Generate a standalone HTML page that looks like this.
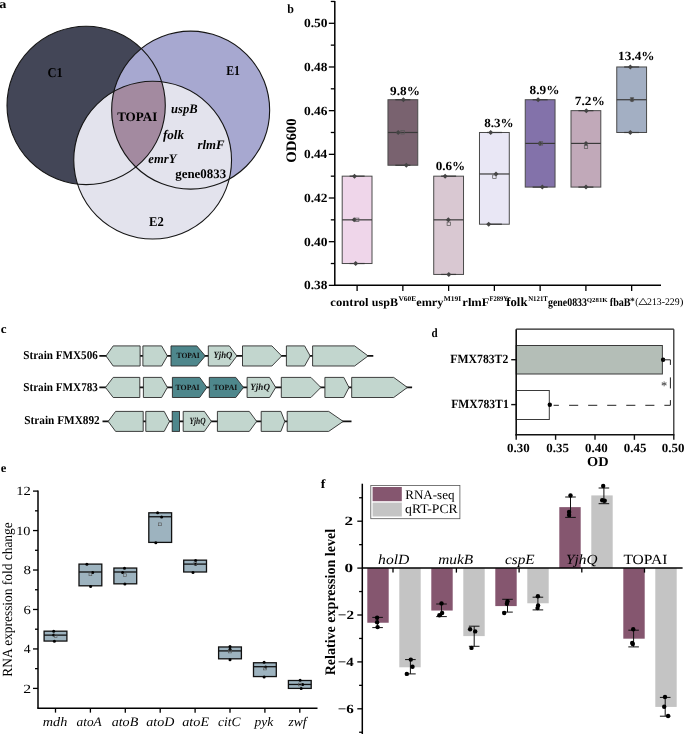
<!DOCTYPE html>
<html><head><meta charset="utf-8"><title>Figure</title>
<style>
html,body{margin:0;padding:0;background:#fff;}
body{width:685px;height:734px;overflow:hidden;}
svg{display:block;font-family:"Liberation Serif", serif;}
text{text-rendering:geometricPrecision;}
svg{will-change:transform;}
</style></head>
<body>
<svg width="685" height="734" viewBox="0 0 685 734">
<rect x="0" y="0" width="685" height="734" fill="#fff"/>
<defs>
<clipPath id="cE1"><circle cx="190.65" cy="110.15" r="79.0"/></clipPath>
<clipPath id="cE2"><circle cx="152.65" cy="160.1" r="78.9"/></clipPath>
</defs>
<circle cx="86.15" cy="105.45" r="79.15" fill="#434657" stroke="none" stroke-width="1" />
<circle cx="190.65" cy="110.15" r="79.00" fill="#a7a8d0" stroke="none" stroke-width="1" />
<circle cx="152.65" cy="160.10" r="78.90" fill="#e3e3ed" stroke="none" stroke-width="1" />
<g clip-path="url(#cE1)">
<circle cx="86.15" cy="105.45" r="79.15" fill="#a38aa0" stroke="none" stroke-width="1" clip-path="url(#cE2)"/>
</g>
<circle cx="86.15" cy="105.45" r="79.15" fill="none" stroke="#151515" stroke-width="1.1" />
<circle cx="190.65" cy="110.15" r="79.00" fill="none" stroke="#151515" stroke-width="1.1" />
<circle cx="152.65" cy="160.10" r="78.90" fill="none" stroke="#151515" stroke-width="1.1" />
<line x1="334.80" y1="0.96" x2="334.80" y2="285.36" stroke="#000" stroke-width="1.5" />
<line x1="334.05" y1="285.36" x2="661.00" y2="285.36" stroke="#000" stroke-width="1.5" />
<line x1="328.80" y1="285.36" x2="334.80" y2="285.36" stroke="#000" stroke-width="1.3" />
<line x1="328.80" y1="241.68" x2="334.80" y2="241.68" stroke="#000" stroke-width="1.3" />
<line x1="328.80" y1="198.00" x2="334.80" y2="198.00" stroke="#000" stroke-width="1.3" />
<line x1="328.80" y1="154.33" x2="334.80" y2="154.33" stroke="#000" stroke-width="1.3" />
<line x1="328.80" y1="110.65" x2="334.80" y2="110.65" stroke="#000" stroke-width="1.3" />
<line x1="328.80" y1="66.98" x2="334.80" y2="66.98" stroke="#000" stroke-width="1.3" />
<line x1="328.80" y1="23.30" x2="334.80" y2="23.30" stroke="#000" stroke-width="1.3" />
<line x1="330.80" y1="263.52" x2="334.80" y2="263.52" stroke="#000" stroke-width="1.3" />
<line x1="330.80" y1="219.84" x2="334.80" y2="219.84" stroke="#000" stroke-width="1.3" />
<line x1="330.80" y1="176.17" x2="334.80" y2="176.17" stroke="#000" stroke-width="1.3" />
<line x1="330.80" y1="132.49" x2="334.80" y2="132.49" stroke="#000" stroke-width="1.3" />
<line x1="330.80" y1="88.81" x2="334.80" y2="88.81" stroke="#000" stroke-width="1.3" />
<line x1="330.80" y1="45.14" x2="334.80" y2="45.14" stroke="#000" stroke-width="1.3" />
<line x1="330.80" y1="1.46" x2="334.80" y2="1.46" stroke="#000" stroke-width="1.3" />
<rect x="342.20" y="176.17" width="29.80" height="87.35" fill="#efd6ea" stroke="#4a4a4a" stroke-width="1" />
<line x1="342.20" y1="219.84" x2="372.00" y2="219.84" stroke="#3a3a3a" stroke-width="1.2" />
<line x1="349.60" y1="176.17" x2="364.60" y2="176.17" stroke="#3a3a3a" stroke-width="1.2" />
<line x1="349.60" y1="263.52" x2="364.60" y2="263.52" stroke="#3a3a3a" stroke-width="1.2" />
<line x1="357.10" y1="285.36" x2="357.10" y2="290.96" stroke="#000" stroke-width="1.3" />
<rect x="387.96" y="99.73" width="29.80" height="65.51" fill="#79626f" stroke="#4a4a4a" stroke-width="1" />
<line x1="387.96" y1="132.49" x2="417.76" y2="132.49" stroke="#3a3a3a" stroke-width="1.2" />
<line x1="395.36" y1="99.73" x2="410.36" y2="99.73" stroke="#3a3a3a" stroke-width="1.2" />
<line x1="395.36" y1="165.25" x2="410.36" y2="165.25" stroke="#3a3a3a" stroke-width="1.2" />
<line x1="402.86" y1="285.36" x2="402.86" y2="290.96" stroke="#000" stroke-width="1.3" />
<rect x="433.72" y="176.17" width="29.80" height="98.27" fill="#d9c8d2" stroke="#4a4a4a" stroke-width="1" />
<line x1="433.72" y1="219.84" x2="463.52" y2="219.84" stroke="#3a3a3a" stroke-width="1.2" />
<line x1="441.12" y1="176.17" x2="456.12" y2="176.17" stroke="#3a3a3a" stroke-width="1.2" />
<line x1="441.12" y1="274.44" x2="456.12" y2="274.44" stroke="#3a3a3a" stroke-width="1.2" />
<line x1="448.62" y1="285.36" x2="448.62" y2="290.96" stroke="#000" stroke-width="1.3" />
<rect x="479.48" y="132.49" width="29.80" height="91.72" fill="#e9e7f5" stroke="#4a4a4a" stroke-width="1" />
<line x1="479.48" y1="173.98" x2="509.28" y2="173.98" stroke="#3a3a3a" stroke-width="1.2" />
<line x1="486.88" y1="132.49" x2="501.88" y2="132.49" stroke="#3a3a3a" stroke-width="1.2" />
<line x1="486.88" y1="224.21" x2="501.88" y2="224.21" stroke="#3a3a3a" stroke-width="1.2" />
<line x1="494.38" y1="285.36" x2="494.38" y2="290.96" stroke="#000" stroke-width="1.3" />
<rect x="525.24" y="99.73" width="29.80" height="87.35" fill="#8372aa" stroke="#4a4a4a" stroke-width="1" />
<line x1="525.24" y1="143.41" x2="555.04" y2="143.41" stroke="#3a3a3a" stroke-width="1.2" />
<line x1="532.64" y1="99.73" x2="547.64" y2="99.73" stroke="#3a3a3a" stroke-width="1.2" />
<line x1="532.64" y1="187.09" x2="547.64" y2="187.09" stroke="#3a3a3a" stroke-width="1.2" />
<line x1="540.14" y1="285.36" x2="540.14" y2="290.96" stroke="#000" stroke-width="1.3" />
<rect x="571.00" y="110.65" width="29.80" height="76.43" fill="#c1a9b9" stroke="#4a4a4a" stroke-width="1" />
<line x1="571.00" y1="143.41" x2="600.80" y2="143.41" stroke="#3a3a3a" stroke-width="1.2" />
<line x1="578.40" y1="110.65" x2="593.40" y2="110.65" stroke="#3a3a3a" stroke-width="1.2" />
<line x1="578.40" y1="187.09" x2="593.40" y2="187.09" stroke="#3a3a3a" stroke-width="1.2" />
<line x1="585.90" y1="285.36" x2="585.90" y2="290.96" stroke="#000" stroke-width="1.3" />
<rect x="616.76" y="66.98" width="29.80" height="65.51" fill="#a3afc3" stroke="#4a4a4a" stroke-width="1" />
<line x1="616.76" y1="99.73" x2="646.56" y2="99.73" stroke="#3a3a3a" stroke-width="1.2" />
<line x1="624.16" y1="66.98" x2="639.16" y2="66.98" stroke="#3a3a3a" stroke-width="1.2" />
<line x1="624.16" y1="132.49" x2="639.16" y2="132.49" stroke="#3a3a3a" stroke-width="1.2" />
<line x1="631.66" y1="285.36" x2="631.66" y2="290.96" stroke="#000" stroke-width="1.3" />
<path d="M352.00,176.17 L354.50,173.67 L357.00,176.17 L354.50,178.67 Z" fill="#444" stroke="none"/>
<path d="M351.70,219.84 L354.20,217.34 L356.70,219.84 L354.20,222.34 Z" fill="#444" stroke="none"/>
<path d="M353.20,263.52 L355.70,261.02 L358.20,263.52 L355.70,266.02 Z" fill="#444" stroke="none"/>
<path d="M400.90,99.73 L403.40,97.23 L405.90,99.73 L403.40,102.23 Z" fill="#444" stroke="none"/>
<path d="M395.70,132.49 L398.20,129.99 L400.70,132.49 L398.20,134.99 Z" fill="#444" stroke="none"/>
<path d="M403.80,165.25 L406.30,162.75 L408.80,165.25 L406.30,167.75 Z" fill="#444" stroke="none"/>
<path d="M442.60,176.17 L445.10,173.67 L447.60,176.17 L445.10,178.67 Z" fill="#444" stroke="none"/>
<path d="M445.80,219.84 L448.30,217.34 L450.80,219.84 L448.30,222.34 Z" fill="#444" stroke="none"/>
<path d="M446.30,274.44 L448.80,271.94 L451.30,274.44 L448.80,276.94 Z" fill="#444" stroke="none"/>
<path d="M488.20,132.49 L490.70,129.99 L493.20,132.49 L490.70,134.99 Z" fill="#444" stroke="none"/>
<path d="M493.50,173.98 L496.00,171.48 L498.50,173.98 L496.00,176.48 Z" fill="#444" stroke="none"/>
<path d="M486.20,224.21 L488.70,221.71 L491.20,224.21 L488.70,226.71 Z" fill="#444" stroke="none"/>
<path d="M535.60,99.73 L538.10,97.23 L540.60,99.73 L538.10,102.23 Z" fill="#444" stroke="none"/>
<path d="M537.50,143.41 L540.00,140.91 L542.50,143.41 L540.00,145.91 Z" fill="#444" stroke="none"/>
<path d="M539.80,187.09 L542.30,184.59 L544.80,187.09 L542.30,189.59 Z" fill="#444" stroke="none"/>
<path d="M583.80,110.65 L586.30,108.15 L588.80,110.65 L586.30,113.15 Z" fill="#444" stroke="none"/>
<path d="M583.50,143.41 L586.00,140.91 L588.50,143.41 L586.00,145.91 Z" fill="#444" stroke="none"/>
<path d="M583.50,187.09 L586.00,184.59 L588.50,187.09 L586.00,189.59 Z" fill="#444" stroke="none"/>
<path d="M627.80,66.98 L630.30,64.48 L632.80,66.98 L630.30,69.48 Z" fill="#444" stroke="none"/>
<path d="M629.50,99.73 L632.00,97.23 L634.50,99.73 L632.00,102.23 Z" fill="#444" stroke="none"/>
<path d="M627.80,132.49 L630.30,129.99 L632.80,132.49 L630.30,134.99 Z" fill="#444" stroke="none"/>
<rect x="355.50" y="218.10" width="3.40" height="3.40" fill="none" stroke="#555" stroke-width="0.7" />
<rect x="400.90" y="130.60" width="3.40" height="3.40" fill="none" stroke="#555" stroke-width="0.7" />
<rect x="447.10" y="222.10" width="3.40" height="3.40" fill="none" stroke="#555" stroke-width="0.7" />
<rect x="492.70" y="175.00" width="3.40" height="3.40" fill="none" stroke="#555" stroke-width="0.7" />
<rect x="539.30" y="141.70" width="3.40" height="3.40" fill="none" stroke="#555" stroke-width="0.7" />
<rect x="584.30" y="145.20" width="3.40" height="3.40" fill="none" stroke="#555" stroke-width="0.7" />
<rect x="630.30" y="97.70" width="3.40" height="3.40" fill="none" stroke="#555" stroke-width="0.7" />
<line x1="99.30" y1="355.95" x2="373.30" y2="355.95" stroke="#111" stroke-width="1.8" />
<polygon points="106.00,355.95 113.20,345.90 140.10,345.90 140.10,366.00 113.20,366.00" fill="#c2d6ce" stroke="#2a2a2a" stroke-width="0.9"/>
<polygon points="142.90,345.90 161.60,345.90 167.40,355.95 161.60,366.00 142.90,366.00" fill="#c2d6ce" stroke="#2a2a2a" stroke-width="0.9"/>
<polygon points="171.00,345.90 196.80,345.90 205.30,355.95 196.80,366.00 171.00,366.00" fill="#4e878c" stroke="#2a2a2a" stroke-width="0.9"/>
<polygon points="208.30,345.90 229.30,345.90 236.90,355.95 229.30,366.00 208.30,366.00" fill="#c2d6ce" stroke="#2a2a2a" stroke-width="0.9"/>
<polygon points="242.50,345.90 271.90,345.90 281.70,355.95 271.90,366.00 242.50,366.00" fill="#c2d6ce" stroke="#2a2a2a" stroke-width="0.9"/>
<polygon points="286.40,345.90 304.60,345.90 310.20,355.95 304.60,366.00 286.40,366.00" fill="#c2d6ce" stroke="#2a2a2a" stroke-width="0.9"/>
<polygon points="312.60,345.90 354.60,345.90 368.10,355.95 354.60,366.00 312.60,366.00" fill="#c2d6ce" stroke="#2a2a2a" stroke-width="0.9"/>
<line x1="99.30" y1="387.45" x2="412.10" y2="387.45" stroke="#111" stroke-width="1.8" />
<polygon points="105.50,387.45 113.20,377.40 139.80,377.40 139.80,397.50 113.20,397.50" fill="#c2d6ce" stroke="#2a2a2a" stroke-width="0.9"/>
<polygon points="143.40,377.40 161.60,377.40 167.40,387.45 161.60,397.50 143.40,397.50" fill="#c2d6ce" stroke="#2a2a2a" stroke-width="0.9"/>
<polygon points="172.40,377.40 199.70,377.40 206.90,387.45 199.70,397.50 172.40,397.50" fill="#4e878c" stroke="#2a2a2a" stroke-width="0.9"/>
<polygon points="209.30,377.40 235.80,377.40 243.50,387.45 235.80,397.50 209.30,397.50" fill="#4e878c" stroke="#2a2a2a" stroke-width="0.9"/>
<polygon points="247.10,377.40 269.60,377.40 275.70,387.45 269.60,397.50 247.10,397.50" fill="#c2d6ce" stroke="#2a2a2a" stroke-width="0.9"/>
<polygon points="281.30,377.40 310.90,377.40 320.90,387.45 310.90,397.50 281.30,397.50" fill="#c2d6ce" stroke="#2a2a2a" stroke-width="0.9"/>
<polygon points="324.90,377.40 343.80,377.40 349.00,387.45 343.80,397.50 324.90,397.50" fill="#c2d6ce" stroke="#2a2a2a" stroke-width="0.9"/>
<polygon points="351.70,377.40 393.70,377.40 407.40,387.45 393.70,397.50 351.70,397.50" fill="#c2d6ce" stroke="#2a2a2a" stroke-width="0.9"/>
<line x1="102.50" y1="421.40" x2="351.50" y2="421.40" stroke="#111" stroke-width="1.8" />
<polygon points="108.20,421.40 115.60,411.40 143.20,411.40 143.20,431.40 115.60,431.40" fill="#c2d6ce" stroke="#2a2a2a" stroke-width="0.9"/>
<polygon points="145.80,411.40 164.20,411.40 169.50,421.40 164.20,431.40 145.80,431.40" fill="#c2d6ce" stroke="#2a2a2a" stroke-width="0.9"/>
<rect x="172.20" y="411.40" width="7.30" height="20.00" fill="#4e878c" stroke="#2a2a2a" stroke-width="0.9" />
<polygon points="183.20,411.40 204.40,411.40 211.40,421.40 204.40,431.40 183.20,431.40" fill="#c2d6ce" stroke="#2a2a2a" stroke-width="0.9"/>
<polygon points="217.40,411.40 249.30,411.40 256.70,421.40 249.30,431.40 217.40,431.40" fill="#c2d6ce" stroke="#2a2a2a" stroke-width="0.9"/>
<polygon points="261.20,411.40 280.90,411.40 284.80,421.40 280.90,431.40 261.20,431.40" fill="#c2d6ce" stroke="#2a2a2a" stroke-width="0.9"/>
<polygon points="287.20,411.40 328.70,411.40 343.20,421.40 328.70,431.40 287.20,431.40" fill="#c2d6ce" stroke="#2a2a2a" stroke-width="0.9"/>
<rect x="516.20" y="345.50" width="146.17" height="28.50" fill="#b4beb7" stroke="#3a3a3a" stroke-width="1" />
<rect x="516.20" y="390.50" width="33.10" height="29.00" fill="#fff" stroke="#3a3a3a" stroke-width="1" />
<line x1="516.20" y1="329.20" x2="673.80" y2="329.20" stroke="#222" stroke-width="1.2" />
<line x1="673.80" y1="329.20" x2="673.80" y2="434.80" stroke="#222" stroke-width="1.2" />
<line x1="516.20" y1="329.20" x2="516.20" y2="435.55" stroke="#111" stroke-width="1.6" />
<line x1="515.45" y1="434.80" x2="674.40" y2="434.80" stroke="#111" stroke-width="1.6" />
<line x1="511.20" y1="359.70" x2="516.20" y2="359.70" stroke="#111" stroke-width="1.4" />
<line x1="511.20" y1="404.60" x2="516.20" y2="404.60" stroke="#111" stroke-width="1.4" />
<line x1="516.20" y1="434.80" x2="516.20" y2="439.80" stroke="#111" stroke-width="1.4" />
<line x1="555.60" y1="434.80" x2="555.60" y2="439.80" stroke="#111" stroke-width="1.4" />
<line x1="595.00" y1="434.80" x2="595.00" y2="439.80" stroke="#111" stroke-width="1.4" />
<line x1="634.40" y1="434.80" x2="634.40" y2="439.80" stroke="#111" stroke-width="1.4" />
<line x1="673.80" y1="434.80" x2="673.80" y2="439.80" stroke="#111" stroke-width="1.4" />
<circle cx="663.10" cy="359.80" r="2.20" fill="#000" stroke="none" stroke-width="1" />
<circle cx="549.80" cy="404.70" r="2.20" fill="#000" stroke="none" stroke-width="1" />
<line x1="663.10" y1="359.80" x2="670.40" y2="359.80" stroke="#222" stroke-width="1" />
<line x1="553.60" y1="405.30" x2="558.90" y2="405.30" stroke="#222" stroke-width="1" />
<path d="M569.1,405.3 L670.4,405.3" fill="none" stroke="#222" stroke-width="1" stroke-dasharray="9.1,9.95"/>
<line x1="670.40" y1="359.80" x2="670.40" y2="364.90" stroke="#222" stroke-width="1" />
<line x1="670.40" y1="377.40" x2="670.40" y2="388.40" stroke="#222" stroke-width="1" />
<line x1="670.40" y1="400.10" x2="670.40" y2="405.30" stroke="#222" stroke-width="1" />
<line x1="38.00" y1="490.60" x2="38.00" y2="708.13" stroke="#000" stroke-width="1.5" />
<line x1="37.25" y1="708.13" x2="317.50" y2="708.13" stroke="#000" stroke-width="1.5" />
<line x1="33.00" y1="688.40" x2="38.00" y2="688.40" stroke="#000" stroke-width="1.3" />
<line x1="33.00" y1="648.94" x2="38.00" y2="648.94" stroke="#000" stroke-width="1.3" />
<line x1="33.00" y1="609.48" x2="38.00" y2="609.48" stroke="#000" stroke-width="1.3" />
<line x1="33.00" y1="570.02" x2="38.00" y2="570.02" stroke="#000" stroke-width="1.3" />
<line x1="33.00" y1="530.56" x2="38.00" y2="530.56" stroke="#000" stroke-width="1.3" />
<line x1="33.00" y1="491.10" x2="38.00" y2="491.10" stroke="#000" stroke-width="1.3" />
<line x1="35.00" y1="668.67" x2="38.00" y2="668.67" stroke="#000" stroke-width="1.3" />
<line x1="35.00" y1="629.21" x2="38.00" y2="629.21" stroke="#000" stroke-width="1.3" />
<line x1="35.00" y1="589.75" x2="38.00" y2="589.75" stroke="#000" stroke-width="1.3" />
<line x1="35.00" y1="550.29" x2="38.00" y2="550.29" stroke="#000" stroke-width="1.3" />
<line x1="35.00" y1="510.83" x2="38.00" y2="510.83" stroke="#000" stroke-width="1.3" />
<rect x="44.10" y="631.18" width="22.80" height="9.87" fill="#9db3bf" stroke="#111" stroke-width="1.3" />
<line x1="44.10" y1="635.13" x2="66.90" y2="635.13" stroke="#111" stroke-width="1.3" />
<line x1="55.50" y1="708.13" x2="55.50" y2="712.63" stroke="#000" stroke-width="1.3" />
<rect x="79.00" y="564.10" width="22.80" height="21.70" fill="#9db3bf" stroke="#111" stroke-width="1.3" />
<line x1="79.00" y1="571.99" x2="101.80" y2="571.99" stroke="#111" stroke-width="1.3" />
<line x1="90.40" y1="708.13" x2="90.40" y2="712.63" stroke="#000" stroke-width="1.3" />
<rect x="113.90" y="568.05" width="22.80" height="15.78" fill="#9db3bf" stroke="#111" stroke-width="1.3" />
<line x1="113.90" y1="571.99" x2="136.70" y2="571.99" stroke="#111" stroke-width="1.3" />
<line x1="125.30" y1="708.13" x2="125.30" y2="712.63" stroke="#000" stroke-width="1.3" />
<rect x="148.80" y="512.80" width="22.80" height="29.60" fill="#9db3bf" stroke="#111" stroke-width="1.3" />
<line x1="148.80" y1="516.75" x2="171.60" y2="516.75" stroke="#111" stroke-width="1.3" />
<line x1="160.20" y1="708.13" x2="160.20" y2="712.63" stroke="#000" stroke-width="1.3" />
<rect x="183.70" y="560.15" width="22.80" height="11.84" fill="#9db3bf" stroke="#111" stroke-width="1.3" />
<line x1="183.70" y1="564.10" x2="206.50" y2="564.10" stroke="#111" stroke-width="1.3" />
<line x1="195.10" y1="708.13" x2="195.10" y2="712.63" stroke="#000" stroke-width="1.3" />
<rect x="218.60" y="646.97" width="22.80" height="11.84" fill="#9db3bf" stroke="#111" stroke-width="1.3" />
<line x1="218.60" y1="650.91" x2="241.40" y2="650.91" stroke="#111" stroke-width="1.3" />
<line x1="230.00" y1="708.13" x2="230.00" y2="712.63" stroke="#000" stroke-width="1.3" />
<rect x="253.50" y="662.75" width="22.80" height="13.81" fill="#9db3bf" stroke="#111" stroke-width="1.3" />
<line x1="253.50" y1="666.70" x2="276.30" y2="666.70" stroke="#111" stroke-width="1.3" />
<line x1="264.90" y1="708.13" x2="264.90" y2="712.63" stroke="#000" stroke-width="1.3" />
<rect x="288.40" y="680.51" width="22.80" height="7.89" fill="#9db3bf" stroke="#111" stroke-width="1.3" />
<line x1="288.40" y1="684.45" x2="311.20" y2="684.45" stroke="#111" stroke-width="1.3" />
<line x1="299.80" y1="708.13" x2="299.80" y2="712.63" stroke="#000" stroke-width="1.3" />
<circle cx="53.70" cy="631.30" r="1.50" fill="#000" stroke="none" stroke-width="1" />
<circle cx="53.70" cy="635.00" r="1.50" fill="#000" stroke="none" stroke-width="1" />
<circle cx="54.40" cy="641.30" r="1.50" fill="#000" stroke="none" stroke-width="1" />
<circle cx="86.90" cy="564.20" r="1.50" fill="#000" stroke="none" stroke-width="1" />
<circle cx="92.70" cy="572.40" r="1.50" fill="#000" stroke="none" stroke-width="1" />
<circle cx="90.60" cy="586.40" r="1.50" fill="#000" stroke="none" stroke-width="1" />
<circle cx="124.50" cy="568.20" r="1.50" fill="#000" stroke="none" stroke-width="1" />
<circle cx="122.60" cy="572.40" r="1.50" fill="#000" stroke="none" stroke-width="1" />
<circle cx="124.90" cy="584.10" r="1.50" fill="#000" stroke="none" stroke-width="1" />
<circle cx="157.60" cy="512.80" r="1.50" fill="#000" stroke="none" stroke-width="1" />
<circle cx="161.60" cy="517.10" r="1.50" fill="#000" stroke="none" stroke-width="1" />
<circle cx="155.80" cy="542.70" r="1.50" fill="#000" stroke="none" stroke-width="1" />
<circle cx="195.60" cy="560.40" r="1.50" fill="#000" stroke="none" stroke-width="1" />
<circle cx="195.60" cy="564.30" r="1.50" fill="#000" stroke="none" stroke-width="1" />
<circle cx="193.00" cy="572.50" r="1.50" fill="#000" stroke="none" stroke-width="1" />
<circle cx="230.00" cy="646.60" r="1.50" fill="#000" stroke="none" stroke-width="1" />
<circle cx="230.00" cy="649.20" r="1.50" fill="#000" stroke="none" stroke-width="1" />
<circle cx="230.00" cy="659.80" r="1.50" fill="#000" stroke="none" stroke-width="1" />
<circle cx="264.10" cy="662.20" r="1.50" fill="#000" stroke="none" stroke-width="1" />
<circle cx="265.70" cy="667.00" r="1.50" fill="#000" stroke="none" stroke-width="1" />
<circle cx="264.10" cy="677.00" r="1.50" fill="#000" stroke="none" stroke-width="1" />
<circle cx="300.10" cy="680.20" r="1.50" fill="#000" stroke="none" stroke-width="1" />
<circle cx="302.70" cy="684.40" r="1.50" fill="#000" stroke="none" stroke-width="1" />
<circle cx="301.20" cy="688.60" r="1.50" fill="#000" stroke="none" stroke-width="1" />
<rect x="54.20" y="634.80" width="2.80" height="2.80" fill="none" stroke="#555" stroke-width="0.6" />
<rect x="89.00" y="572.90" width="2.80" height="2.80" fill="none" stroke="#555" stroke-width="0.6" />
<rect x="123.50" y="573.80" width="2.80" height="2.80" fill="none" stroke="#555" stroke-width="0.6" />
<rect x="158.60" y="522.90" width="2.80" height="2.80" fill="none" stroke="#555" stroke-width="0.6" />
<rect x="193.90" y="562.10" width="2.80" height="2.80" fill="none" stroke="#555" stroke-width="0.6" />
<rect x="228.60" y="650.10" width="2.80" height="2.80" fill="none" stroke="#555" stroke-width="0.6" />
<rect x="263.60" y="667.10" width="2.80" height="2.80" fill="none" stroke="#555" stroke-width="0.6" />
<rect x="298.60" y="683.10" width="2.80" height="2.80" fill="none" stroke="#555" stroke-width="0.6" />
<line x1="362.30" y1="483.70" x2="362.30" y2="734.00" stroke="#000" stroke-width="1.5" />
<line x1="357.30" y1="521.20" x2="362.30" y2="521.20" stroke="#000" stroke-width="1.3" />
<line x1="357.30" y1="568.10" x2="362.30" y2="568.10" stroke="#000" stroke-width="1.3" />
<line x1="357.30" y1="615.00" x2="362.30" y2="615.00" stroke="#000" stroke-width="1.3" />
<line x1="357.30" y1="661.90" x2="362.30" y2="661.90" stroke="#000" stroke-width="1.3" />
<line x1="357.30" y1="708.80" x2="362.30" y2="708.80" stroke="#000" stroke-width="1.3" />
<line x1="359.10" y1="497.75" x2="362.30" y2="497.75" stroke="#000" stroke-width="1.3" />
<line x1="359.10" y1="544.65" x2="362.30" y2="544.65" stroke="#000" stroke-width="1.3" />
<line x1="359.10" y1="591.55" x2="362.30" y2="591.55" stroke="#000" stroke-width="1.3" />
<line x1="359.10" y1="638.45" x2="362.30" y2="638.45" stroke="#000" stroke-width="1.3" />
<line x1="359.10" y1="685.35" x2="362.30" y2="685.35" stroke="#000" stroke-width="1.3" />
<line x1="359.10" y1="732.25" x2="362.30" y2="732.25" stroke="#000" stroke-width="1.3" />
<rect x="367.30" y="568.10" width="21.40" height="54.64" fill="#85566f" stroke="none" stroke-width="1" />
<rect x="399.30" y="568.10" width="21.40" height="99.19" fill="#c4c4c4" stroke="none" stroke-width="1" />
<line x1="393.00" y1="568.10" x2="393.00" y2="572.60" stroke="#000" stroke-width="1.3" />
<rect x="431.30" y="568.10" width="21.40" height="42.44" fill="#85566f" stroke="none" stroke-width="1" />
<rect x="463.30" y="568.10" width="21.40" height="68.00" fill="#c4c4c4" stroke="none" stroke-width="1" />
<line x1="456.40" y1="568.10" x2="456.40" y2="572.60" stroke="#000" stroke-width="1.3" />
<rect x="495.30" y="568.10" width="21.40" height="37.99" fill="#85566f" stroke="none" stroke-width="1" />
<rect x="527.30" y="568.10" width="21.40" height="35.17" fill="#c4c4c4" stroke="none" stroke-width="1" />
<line x1="519.10" y1="568.10" x2="519.10" y2="572.60" stroke="#000" stroke-width="1.3" />
<rect x="559.30" y="507.13" width="21.40" height="60.97" fill="#85566f" stroke="none" stroke-width="1" />
<rect x="591.30" y="495.41" width="21.40" height="72.69" fill="#c4c4c4" stroke="none" stroke-width="1" />
<line x1="581.80" y1="568.10" x2="581.80" y2="572.60" stroke="#000" stroke-width="1.3" />
<rect x="623.30" y="568.10" width="21.40" height="70.58" fill="#85566f" stroke="none" stroke-width="1" />
<rect x="655.30" y="568.10" width="21.40" height="138.82" fill="#c4c4c4" stroke="none" stroke-width="1" />
<line x1="644.50" y1="568.10" x2="644.50" y2="572.60" stroke="#000" stroke-width="1.3" />
<line x1="362.30" y1="568.10" x2="682.60" y2="568.10" stroke="#000" stroke-width="1.5" />
<line x1="377.60" y1="617.40" x2="377.60" y2="627.60" stroke="#111" stroke-width="1" />
<line x1="372.30" y1="617.40" x2="382.90" y2="617.40" stroke="#111" stroke-width="1" />
<line x1="372.30" y1="627.60" x2="382.90" y2="627.60" stroke="#111" stroke-width="1" />
<line x1="410.40" y1="659.60" x2="410.40" y2="673.90" stroke="#111" stroke-width="1" />
<line x1="405.10" y1="659.60" x2="415.70" y2="659.60" stroke="#111" stroke-width="1" />
<line x1="405.10" y1="673.90" x2="415.70" y2="673.90" stroke="#111" stroke-width="1" />
<line x1="441.50" y1="604.00" x2="441.50" y2="616.60" stroke="#111" stroke-width="1" />
<line x1="436.20" y1="604.00" x2="446.80" y2="604.00" stroke="#111" stroke-width="1" />
<line x1="436.20" y1="616.60" x2="446.80" y2="616.60" stroke="#111" stroke-width="1" />
<line x1="474.20" y1="626.20" x2="474.20" y2="646.30" stroke="#111" stroke-width="1" />
<line x1="468.90" y1="626.20" x2="479.50" y2="626.20" stroke="#111" stroke-width="1" />
<line x1="468.90" y1="646.30" x2="479.50" y2="646.30" stroke="#111" stroke-width="1" />
<line x1="507.50" y1="599.30" x2="507.50" y2="612.10" stroke="#111" stroke-width="1" />
<line x1="502.20" y1="599.30" x2="512.80" y2="599.30" stroke="#111" stroke-width="1" />
<line x1="502.20" y1="612.10" x2="512.80" y2="612.10" stroke="#111" stroke-width="1" />
<line x1="537.90" y1="597.20" x2="537.90" y2="609.90" stroke="#111" stroke-width="1" />
<line x1="532.60" y1="597.20" x2="543.20" y2="597.20" stroke="#111" stroke-width="1" />
<line x1="532.60" y1="609.90" x2="543.20" y2="609.90" stroke="#111" stroke-width="1" />
<line x1="570.50" y1="497.00" x2="570.50" y2="517.40" stroke="#111" stroke-width="1" />
<line x1="565.20" y1="497.00" x2="575.80" y2="497.00" stroke="#111" stroke-width="1" />
<line x1="565.20" y1="517.40" x2="575.80" y2="517.40" stroke="#111" stroke-width="1" />
<line x1="603.90" y1="488.00" x2="603.90" y2="503.70" stroke="#111" stroke-width="1" />
<line x1="598.60" y1="488.00" x2="609.20" y2="488.00" stroke="#111" stroke-width="1" />
<line x1="598.60" y1="503.70" x2="609.20" y2="503.70" stroke="#111" stroke-width="1" />
<line x1="633.60" y1="630.20" x2="633.60" y2="646.90" stroke="#111" stroke-width="1" />
<line x1="628.30" y1="630.20" x2="638.90" y2="630.20" stroke="#111" stroke-width="1" />
<line x1="628.30" y1="646.90" x2="638.90" y2="646.90" stroke="#111" stroke-width="1" />
<line x1="665.20" y1="697.40" x2="665.20" y2="716.20" stroke="#111" stroke-width="1" />
<line x1="659.90" y1="697.40" x2="670.50" y2="697.40" stroke="#111" stroke-width="1" />
<line x1="659.90" y1="716.20" x2="670.50" y2="716.20" stroke="#111" stroke-width="1" />
<circle cx="377.10" cy="617.70" r="2.20" fill="#000" stroke="none" stroke-width="1" />
<circle cx="377.10" cy="622.20" r="2.20" fill="#000" stroke="none" stroke-width="1" />
<circle cx="377.60" cy="627.10" r="2.20" fill="#000" stroke="none" stroke-width="1" />
<circle cx="410.80" cy="659.60" r="2.20" fill="#000" stroke="none" stroke-width="1" />
<circle cx="412.50" cy="666.80" r="2.20" fill="#000" stroke="none" stroke-width="1" />
<circle cx="406.80" cy="673.90" r="2.20" fill="#000" stroke="none" stroke-width="1" />
<circle cx="441.50" cy="603.40" r="2.20" fill="#000" stroke="none" stroke-width="1" />
<circle cx="442.10" cy="613.00" r="2.20" fill="#000" stroke="none" stroke-width="1" />
<circle cx="439.40" cy="615.20" r="2.20" fill="#000" stroke="none" stroke-width="1" />
<circle cx="470.10" cy="629.30" r="2.20" fill="#000" stroke="none" stroke-width="1" />
<circle cx="475.20" cy="631.40" r="2.20" fill="#000" stroke="none" stroke-width="1" />
<circle cx="471.50" cy="647.90" r="2.20" fill="#000" stroke="none" stroke-width="1" />
<circle cx="507.50" cy="601.30" r="2.20" fill="#000" stroke="none" stroke-width="1" />
<circle cx="506.90" cy="603.80" r="2.20" fill="#000" stroke="none" stroke-width="1" />
<circle cx="504.20" cy="613.00" r="2.20" fill="#000" stroke="none" stroke-width="1" />
<circle cx="537.90" cy="596.20" r="2.20" fill="#000" stroke="none" stroke-width="1" />
<circle cx="538.10" cy="605.40" r="2.20" fill="#000" stroke="none" stroke-width="1" />
<circle cx="537.50" cy="608.10" r="2.20" fill="#000" stroke="none" stroke-width="1" />
<circle cx="570.50" cy="495.50" r="2.20" fill="#000" stroke="none" stroke-width="1" />
<circle cx="569.10" cy="511.90" r="2.20" fill="#000" stroke="none" stroke-width="1" />
<circle cx="569.10" cy="515.00" r="2.20" fill="#000" stroke="none" stroke-width="1" />
<circle cx="603.20" cy="486.00" r="2.20" fill="#000" stroke="none" stroke-width="1" />
<circle cx="602.20" cy="500.20" r="2.20" fill="#000" stroke="none" stroke-width="1" />
<circle cx="604.70" cy="500.70" r="2.20" fill="#000" stroke="none" stroke-width="1" />
<circle cx="633.20" cy="629.30" r="2.20" fill="#000" stroke="none" stroke-width="1" />
<circle cx="632.20" cy="643.00" r="2.20" fill="#000" stroke="none" stroke-width="1" />
<circle cx="632.80" cy="644.00" r="2.20" fill="#000" stroke="none" stroke-width="1" />
<circle cx="665.00" cy="697.00" r="2.20" fill="#000" stroke="none" stroke-width="1" />
<circle cx="664.20" cy="706.80" r="2.20" fill="#000" stroke="none" stroke-width="1" />
<circle cx="668.10" cy="716.00" r="2.20" fill="#000" stroke="none" stroke-width="1" />
<rect x="370.80" y="485.40" width="89.10" height="33.30" fill="#fff" stroke="#555" stroke-width="0.8" />
<rect x="372.60" y="487.00" width="29.20" height="14.20" fill="#85566f" stroke="none" stroke-width="1" />
<rect x="372.60" y="502.60" width="29.20" height="13.90" fill="#c4c4c4" stroke="none" stroke-width="1" />
<polygon points="638.9,304.5 643.05,298.3 647.2,304.5" fill="none" stroke="#222" stroke-width="0.85"/>
<text x="-0.73" y="7.90" textLength="7.11" lengthAdjust="spacingAndGlyphs" font-size="12.5" font-weight="bold" font-style="normal" fill="#000">a</text>
<text x="287.18" y="12.80" textLength="6.65" lengthAdjust="spacingAndGlyphs" font-size="12.5" font-weight="bold" font-style="normal" fill="#000">b</text>
<text x="0.81" y="332.80" textLength="5.80" lengthAdjust="spacingAndGlyphs" font-size="12.5" font-weight="bold" font-style="normal" fill="#000">c</text>
<text x="431.46" y="337.30" textLength="6.12" lengthAdjust="spacingAndGlyphs" font-size="12.5" font-weight="bold" font-style="normal" fill="#000">d</text>
<text x="0.82" y="472.40" textLength="5.58" lengthAdjust="spacingAndGlyphs" font-size="12.5" font-weight="bold" font-style="normal" fill="#000">e</text>
<text x="320.86" y="488.00" textLength="4.64" lengthAdjust="spacingAndGlyphs" font-size="12.5" font-weight="bold" font-style="normal" fill="#000">f</text>
<text x="47.52" y="77.10" textLength="15.27" lengthAdjust="spacingAndGlyphs" font-size="13.5" font-weight="bold" font-style="normal" fill="#000">C1</text>
<text x="226.18" y="74.90" textLength="13.78" lengthAdjust="spacingAndGlyphs" font-size="13.5" font-weight="bold" font-style="normal" fill="#000">E1</text>
<text x="149.07" y="226.40" textLength="14.72" lengthAdjust="spacingAndGlyphs" font-size="13.5" font-weight="bold" font-style="normal" fill="#000">E2</text>
<text x="117.15" y="121.10" textLength="40.13" lengthAdjust="spacingAndGlyphs" font-size="13" font-weight="bold" font-style="normal" fill="#000">TOPAI</text>
<text x="171.02" y="112.50" textLength="26.53" lengthAdjust="spacingAndGlyphs" font-size="13" font-weight="bold" font-style="italic" fill="#000">uspB</text>
<text x="162.90" y="139.00" textLength="21.09" lengthAdjust="spacingAndGlyphs" font-size="13" font-weight="bold" font-style="italic" fill="#000">folk</text>
<text x="197.45" y="149.30" textLength="27.05" lengthAdjust="spacingAndGlyphs" font-size="13" font-weight="bold" font-style="italic" fill="#000">rlmF</text>
<text x="148.36" y="163.20" textLength="27.98" lengthAdjust="spacingAndGlyphs" font-size="13" font-weight="bold" font-style="italic" fill="#000">emrY</text>
<text x="175.23" y="177.50" textLength="50.87" lengthAdjust="spacingAndGlyphs" font-size="13" font-weight="bold" font-style="normal" fill="#000">gene0833</text>
<text x="303.96" y="289.46" textLength="23.44" lengthAdjust="spacingAndGlyphs" font-size="12.5" font-weight="bold" font-style="normal" fill="#000">0.38</text>
<text x="303.96" y="245.78" textLength="23.58" lengthAdjust="spacingAndGlyphs" font-size="12.5" font-weight="bold" font-style="normal" fill="#000">0.40</text>
<text x="303.96" y="202.10" textLength="23.58" lengthAdjust="spacingAndGlyphs" font-size="12.5" font-weight="bold" font-style="normal" fill="#000">0.42</text>
<text x="303.97" y="158.43" textLength="23.30" lengthAdjust="spacingAndGlyphs" font-size="12.5" font-weight="bold" font-style="normal" fill="#000">0.44</text>
<text x="303.96" y="114.75" textLength="23.44" lengthAdjust="spacingAndGlyphs" font-size="12.5" font-weight="bold" font-style="normal" fill="#000">0.46</text>
<text x="303.96" y="71.08" textLength="23.44" lengthAdjust="spacingAndGlyphs" font-size="12.5" font-weight="bold" font-style="normal" fill="#000">0.48</text>
<text x="303.96" y="27.40" textLength="23.58" lengthAdjust="spacingAndGlyphs" font-size="12.5" font-weight="bold" font-style="normal" fill="#000">0.50</text>
<text transform="translate(295.90,161.90) rotate(-90)" x="-0.76" y="0" textLength="44.17" lengthAdjust="spacingAndGlyphs" font-size="14.5" font-weight="bold" font-style="normal" fill="#000">OD600</text>
<text x="390.10" y="94.60" textLength="29.79" lengthAdjust="spacingAndGlyphs" font-size="12.5" font-weight="bold" font-style="normal" fill="#000">9.8%</text>
<text x="435.68" y="169.80" textLength="29.50" lengthAdjust="spacingAndGlyphs" font-size="12.5" font-weight="bold" font-style="normal" fill="#000">0.6%</text>
<text x="484.21" y="127.00" textLength="29.47" lengthAdjust="spacingAndGlyphs" font-size="12.5" font-weight="bold" font-style="normal" fill="#000">8.3%</text>
<text x="529.60" y="94.40" textLength="29.89" lengthAdjust="spacingAndGlyphs" font-size="12.5" font-weight="bold" font-style="normal" fill="#000">8.9%</text>
<text x="574.80" y="105.20" textLength="30.11" lengthAdjust="spacingAndGlyphs" font-size="12.5" font-weight="bold" font-style="normal" fill="#000">7.2%</text>
<text x="618.14" y="60.10" textLength="36.45" lengthAdjust="spacingAndGlyphs" font-size="12.5" font-weight="bold" font-style="normal" fill="#000">13.4%</text>
<text x="330.39" y="305.60" textLength="38.25" lengthAdjust="spacingAndGlyphs" font-size="11.6" font-weight="bold" font-style="normal" fill="#000">control</text>
<text x="371.87" y="305.60" textLength="26.02" lengthAdjust="spacingAndGlyphs" font-size="11.6" font-weight="bold" font-style="normal" fill="#000">uspB</text>
<text x="398.47" y="301.20" textLength="17.87" lengthAdjust="spacingAndGlyphs" font-size="7.2" font-weight="bold" font-style="normal" fill="#000">V60E</text>
<text x="416.20" y="305.60" textLength="27.24" lengthAdjust="spacingAndGlyphs" font-size="11.6" font-weight="bold" font-style="normal" fill="#000">emry</text>
<text x="443.87" y="301.20" textLength="17.34" lengthAdjust="spacingAndGlyphs" font-size="7.2" font-weight="bold" font-style="normal" fill="#000">M19I</text>
<text x="462.33" y="305.60" textLength="27.14" lengthAdjust="spacingAndGlyphs" font-size="11.6" font-weight="bold" font-style="normal" fill="#000">rlmF</text>
<text x="489.49" y="301.20" textLength="18.45" lengthAdjust="spacingAndGlyphs" font-size="7.2" font-weight="bold" font-style="normal" fill="#000">F289Y</text>
<text x="506.27" y="305.60" textLength="21.22" lengthAdjust="spacingAndGlyphs" font-size="12.5" font-weight="bold" font-style="normal" fill="#000">folk</text>
<text x="528.18" y="301.20" textLength="19.67" lengthAdjust="spacingAndGlyphs" font-size="7.2" font-weight="bold" font-style="normal" fill="#000">N121T</text>
<text x="547.98" y="305.60" textLength="39.04" lengthAdjust="spacingAndGlyphs" font-size="11.6" font-weight="bold" font-style="normal" fill="#000">gene0833</text>
<text x="586.71" y="302.30" textLength="20.98" lengthAdjust="spacingAndGlyphs" font-size="6" font-weight="bold" font-style="normal" fill="#000">Q281K</text>
<text x="609.79" y="306.00" textLength="20.82" lengthAdjust="spacingAndGlyphs" font-size="11.6" font-weight="bold" font-style="normal" fill="#000">fbaB</text>
<text x="630.02" y="304.20" textLength="4.75" lengthAdjust="spacingAndGlyphs" font-size="9.5" font-weight="bold" font-style="normal" fill="#000">*</text>
<text x="635.14" y="304.90" textLength="3.20" lengthAdjust="spacingAndGlyphs" font-size="10.5" font-weight="normal" font-style="normal" fill="#000">(</text>
<text x="647.02" y="304.90" textLength="32.53" lengthAdjust="spacingAndGlyphs" font-size="10.2" font-weight="normal" font-style="normal" fill="#000">213-229</text>
<text x="679.80" y="304.90" textLength="3.73" lengthAdjust="spacingAndGlyphs" font-size="10.5" font-weight="normal" font-style="normal" fill="#000">)</text>
<text x="23.22" y="359.00" textLength="74.58" lengthAdjust="spacingAndGlyphs" font-size="12" font-weight="bold" font-style="normal" fill="#000">Strain FMX506</text>
<text x="23.22" y="390.70" textLength="74.70" lengthAdjust="spacingAndGlyphs" font-size="12" font-weight="bold" font-style="normal" fill="#000">Strain FMX783</text>
<text x="24.31" y="424.30" textLength="75.43" lengthAdjust="spacingAndGlyphs" font-size="12" font-weight="bold" font-style="normal" fill="#000">Strain FMX892</text>
<text x="450.37" y="362.80" textLength="57.95" lengthAdjust="spacingAndGlyphs" font-size="12.5" font-weight="bold" font-style="normal" fill="#000">FMX783T2</text>
<text x="451.17" y="407.80" textLength="57.56" lengthAdjust="spacingAndGlyphs" font-size="12.5" font-weight="bold" font-style="normal" fill="#000">FMX783T1</text>
<text x="507.08" y="452.00" textLength="22.63" lengthAdjust="spacingAndGlyphs" font-size="12.5" font-weight="bold" font-style="normal" fill="#000">0.30</text>
<text x="546.38" y="452.00" textLength="22.63" lengthAdjust="spacingAndGlyphs" font-size="12.5" font-weight="bold" font-style="normal" fill="#000">0.35</text>
<text x="585.08" y="452.00" textLength="22.63" lengthAdjust="spacingAndGlyphs" font-size="12.5" font-weight="bold" font-style="normal" fill="#000">0.40</text>
<text x="623.73" y="452.00" textLength="22.63" lengthAdjust="spacingAndGlyphs" font-size="12.5" font-weight="bold" font-style="normal" fill="#000">0.45</text>
<text x="661.88" y="452.00" textLength="22.63" lengthAdjust="spacingAndGlyphs" font-size="12.5" font-weight="bold" font-style="normal" fill="#000">0.50</text>
<text x="587.14" y="466.30" textLength="21.53" lengthAdjust="spacingAndGlyphs" font-size="13.5" font-weight="bold" font-style="normal" fill="#000">OD</text>
<text x="23.37" y="692.70" textLength="7.88" lengthAdjust="spacingAndGlyphs" font-size="12.5" font-weight="normal" font-style="normal" fill="#000">2</text>
<text x="23.73" y="653.24" textLength="6.85" lengthAdjust="spacingAndGlyphs" font-size="12.5" font-weight="normal" font-style="normal" fill="#000">4</text>
<text x="23.41" y="613.78" textLength="7.33" lengthAdjust="spacingAndGlyphs" font-size="12.5" font-weight="normal" font-style="normal" fill="#000">6</text>
<text x="23.40" y="574.32" textLength="7.50" lengthAdjust="spacingAndGlyphs" font-size="12.5" font-weight="normal" font-style="normal" fill="#000">8</text>
<text x="16.22" y="534.86" textLength="14.25" lengthAdjust="spacingAndGlyphs" font-size="12.5" font-weight="normal" font-style="normal" fill="#000">10</text>
<text x="16.19" y="495.40" textLength="14.59" lengthAdjust="spacingAndGlyphs" font-size="12.5" font-weight="normal" font-style="normal" fill="#000">12</text>
<text transform="translate(11.50,676.30) rotate(-90)" x="-0.36" y="0" textLength="154.32" lengthAdjust="spacingAndGlyphs" font-size="14" font-weight="normal" font-style="normal" fill="#000">RNA expression fold change</text>
<text x="42.75" y="725.80" textLength="24.51" lengthAdjust="spacingAndGlyphs" font-size="13" font-weight="normal" font-style="italic" fill="#000">mdh</text>
<text x="76.62" y="725.80" textLength="25.11" lengthAdjust="spacingAndGlyphs" font-size="13" font-weight="normal" font-style="italic" fill="#000">atoA</text>
<text x="111.69" y="725.80" textLength="26.53" lengthAdjust="spacingAndGlyphs" font-size="13" font-weight="normal" font-style="italic" fill="#000">atoB</text>
<text x="146.30" y="725.80" textLength="27.97" lengthAdjust="spacingAndGlyphs" font-size="13" font-weight="normal" font-style="italic" fill="#000">atoD</text>
<text x="182.29" y="725.80" textLength="26.80" lengthAdjust="spacingAndGlyphs" font-size="13" font-weight="normal" font-style="italic" fill="#000">atoE</text>
<text x="218.01" y="725.80" textLength="22.60" lengthAdjust="spacingAndGlyphs" font-size="13" font-weight="normal" font-style="italic" fill="#000">citC</text>
<text x="254.58" y="725.80" textLength="18.71" lengthAdjust="spacingAndGlyphs" font-size="13" font-weight="normal" font-style="italic" fill="#000">pyk</text>
<text x="288.53" y="725.80" textLength="18.10" lengthAdjust="spacingAndGlyphs" font-size="13" font-weight="normal" font-style="italic" fill="#000">zwf</text>
<text x="344.41" y="525.00" textLength="8.57" lengthAdjust="spacingAndGlyphs" font-size="12.5" font-weight="bold" font-style="normal" fill="#000">2</text>
<text x="344.41" y="571.90" textLength="8.57" lengthAdjust="spacingAndGlyphs" font-size="12.5" font-weight="bold" font-style="normal" fill="#000">0</text>
<text x="337.74" y="618.80" textLength="16.27" lengthAdjust="spacingAndGlyphs" font-size="12.5" font-weight="bold" font-style="normal" fill="#000">&#8722;2</text>
<text x="337.75" y="665.70" textLength="15.94" lengthAdjust="spacingAndGlyphs" font-size="12.5" font-weight="bold" font-style="normal" fill="#000">&#8722;4</text>
<text x="337.75" y="712.60" textLength="16.10" lengthAdjust="spacingAndGlyphs" font-size="12.5" font-weight="bold" font-style="normal" fill="#000">&#8722;6</text>
<text transform="translate(334.90,675.10) rotate(-90)" x="-0.24" y="0" textLength="146.41" lengthAdjust="spacingAndGlyphs" font-size="14.5" font-weight="bold" font-style="normal" fill="#000">Relative expression level</text>
<text x="405.22" y="498.70" textLength="49.31" lengthAdjust="spacingAndGlyphs" font-size="13" font-weight="normal" font-style="normal" fill="#000">RNA-seq</text>
<text x="405.07" y="513.30" textLength="52.67" lengthAdjust="spacingAndGlyphs" font-size="13" font-weight="normal" font-style="normal" fill="#000">qRT-PCR</text>
<text x="378.14" y="564.00" textLength="31.24" lengthAdjust="spacingAndGlyphs" font-size="14" font-weight="normal" font-style="italic" fill="#000">holD</text>
<text x="438.25" y="564.10" textLength="34.86" lengthAdjust="spacingAndGlyphs" font-size="14" font-weight="normal" font-style="italic" fill="#000">mukB</text>
<text x="504.99" y="564.10" textLength="29.64" lengthAdjust="spacingAndGlyphs" font-size="14" font-weight="normal" font-style="italic" fill="#000">cspE</text>
<text x="566.05" y="564.00" textLength="31.37" lengthAdjust="spacingAndGlyphs" font-size="14" font-weight="normal" font-style="italic" fill="#000">YjhQ</text>
<text x="623.42" y="564.10" textLength="44.06" lengthAdjust="spacingAndGlyphs" font-size="14" font-weight="normal" font-style="normal" fill="#000">TOPAI</text>
<text x="176.48" y="357.80" textLength="23.33" lengthAdjust="spacingAndGlyphs" font-size="8" font-weight="bold" font-style="normal" fill="#111">TOPAI</text>
<text x="213.44" y="357.80" textLength="18.97" lengthAdjust="spacingAndGlyphs" font-size="9.5" font-weight="bold" font-style="italic" fill="#111">YjhQ</text>
<text x="175.48" y="389.60" textLength="24.14" lengthAdjust="spacingAndGlyphs" font-size="8" font-weight="bold" font-style="normal" fill="#111">TOPAI</text>
<text x="213.58" y="389.60" textLength="23.74" lengthAdjust="spacingAndGlyphs" font-size="8" font-weight="bold" font-style="normal" fill="#111">TOPAI</text>
<text x="250.32" y="389.60" textLength="19.60" lengthAdjust="spacingAndGlyphs" font-size="9.5" font-weight="bold" font-style="italic" fill="#111">YjhQ</text>
<text x="189.41" y="423.50" textLength="16.16" lengthAdjust="spacingAndGlyphs" font-size="9.5" font-weight="bold" font-style="italic" fill="#111">YjhQ</text>
<text x="660.90" y="389.80" textLength="6.19" lengthAdjust="spacingAndGlyphs" font-size="13" font-weight="normal" font-style="normal" fill="#333">*</text>
</svg>
</body></html>
